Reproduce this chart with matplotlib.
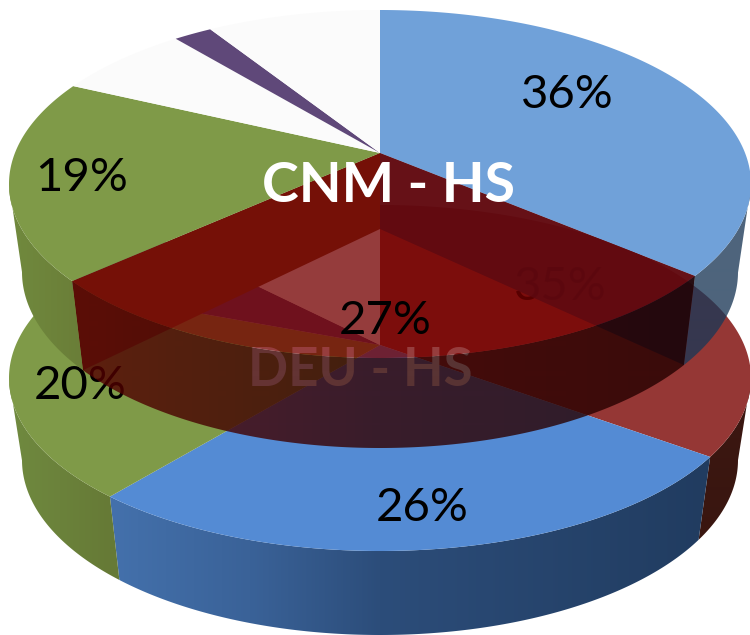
import numpy as np
import matplotlib
matplotlib.use("Agg")
import matplotlib.pyplot as plt
from matplotlib.patches import Polygon

plt.rcParams['font.family'] = ['Lato', 'DejaVu Sans']

# shares in percent, clockwise from 12 o'clock
top_names = ['blue', 'red', 'green', 'white', 'purple', 'white']
top_values = [36.2, 27.1, 18.7, 7, 2, 9]
bottom_names = ['red', 'blue', 'green', 'purple', 'white']
bottom_values = [35, 26, 20, 7, 12]

top_labels = ['36%', '27%', '19%']
bottom_labels = ['35%', '26%', '20%']

top_cols = {'blue': '#70a1d9', 'red': (117/255, 0, 0, 0.76), 'green': '#7f9a48',
            'white': '#fbfbfb', 'purple': '#5f4879'}
bottom_cols = {'red': '#953735', 'blue': '#548bd4', 'green': '#7f9a48',
               'white': '#fbfbfb', 'purple': '#5f4879'}

CX = 380
RX = 371
RX_LOW = 358
SKEW = -0.18      # perspective shift of the pie centre


def rim(frac, cy, rx, ry):
    # fraction round the pie -> pixel on the ellipse, with perspective
    th = 2*np.pi*np.asarray(frac, dtype=float)
    y = -np.cos(th)
    x = np.sin(th)
    yy = (y + SKEW)/(1 + SKEW*y)
    xx = x*np.sqrt(1 - SKEW**2)/(1 + SKEW*y)
    return np.column_stack([CX + rx*xx, cy + ry*yy])


def slice_edges(values):
    c = np.cumsum([0] + list(values))/100.0
    return list(zip(c[:-1], c[1:]))


def face(ax, f0, f1, cy, ry, apex_y, col, z):
    arc = rim(np.linspace(f0, f1, 200), cy, RX, ry)
    pts = np.vstack([[CX, apex_y], arc])
    ax.add_patch(Polygon(pts, closed=True, fc=col, ec='none', zorder=z))


def front_part(f0, f1):
    # keep only the part of the rim that faces the viewer
    f = np.linspace(f0, f1, 400)
    th = 2*np.pi*f
    return f[-np.cos(th) + SKEW >= 0]


def wall(ax, f, cy, ry, cy2, ry2, xs, cols, alpha, z):
    # gradient in x, clipped to the band between the two rims
    if len(f) < 2:
        return
    up = rim(f, cy, RX, ry)
    low = rim(f, cy2, RX_LOW, ry2)
    poly = Polygon(np.vstack([up, low[::-1]]), closed=True, fc='none', ec='none',
                   transform=ax.transData)
    ax.add_patch(poly)
    px = np.arange(750)
    img = np.ones((1, 750, 4))
    cols = np.array(cols)/255.0
    for k in range(3):
        img[0, :, k] = np.interp(px, xs, cols[:, k])
    img[0, :, 3] = alpha
    im = ax.imshow(img, extent=(0, 750, 635, 0), aspect='auto', zorder=z,
                   interpolation='bilinear')
    im.set_clip_path(poly)


def inner_wall(ax, f, apex_top, apex_low, col, z):
    a = rim([f], 184, RX, 174)[0]
    b = rim([f], 272, RX_LOW, 176)[0]
    ax.add_patch(Polygon([[CX, apex_top], [CX, apex_low], b, a], closed=True,
                         fc=col, ec='none', zorder=z))


fig = plt.figure(figsize=(7.5, 6.35), dpi=100)
ax = fig.add_axes([0, 0, 1, 1])

# ---- lower pie
B_CY, B_RY, B_APEX = 378, 173, 345
BL_CY, BL_RY = 460, 175
for name, (f0, f1) in zip(bottom_names, slice_edges(bottom_values)):
    if name == 'blue':
        wall(ax, front_part(f0, f1), B_CY, B_RY, BL_CY, BL_RY,
             [110, 250, 380, 705], [(68, 113, 172), (58, 98, 152), (44, 77, 122), (33, 60, 96)], 1, 1)
    elif name == 'green':
        wall(ax, front_part(f0, f1), B_CY, B_RY, BL_CY, BL_RY,
             [10, 110], [(112, 138, 64), (102, 122, 54)], 1, 1)
    elif name == 'red':
        wall(ax, front_part(f0, f1), B_CY, B_RY, BL_CY, BL_RY,
             [700, 750], [(58, 22, 16), (58, 22, 16)], 1, 1)
    face(ax, f0, f1, B_CY, B_RY, B_APEX, bottom_cols[name], 2)

ax.text(560, 287, bottom_labels[0], fontsize=34, color='black', ha='center', va='center', zorder=3)
ax.text(422, 508, bottom_labels[1], fontsize=34, color='black', ha='center', va='center', zorder=3)
ax.text(80, 386, bottom_labels[2], fontsize=34, color='black', ha='center', va='center', zorder=3)
ax.text(360, 371, 'DEU - HS', fontsize=38, fontweight='bold', color='white', ha='center', va='center', zorder=3)

# ---- upper pie
T_CY, T_RY, T_APEX = 184, 174, 153
TL_CY, TL_RY = 272, 176
TL_APEX = 229
edges = slice_edges(top_values)

inner_wall(ax, edges[1][0], T_APEX, TL_APEX, (20/255, 40/255, 70/255, 0.85), 4)
inner_wall(ax, edges[1][1], T_APEX, TL_APEX, (117/255, 67/255, 33/255, 1), 4)

for name, (f0, f1) in zip(top_names, edges):
    if name == 'blue':
        wall(ax, front_part(f0, f1), T_CY, T_RY, TL_CY, TL_RY,
             [600, 750], [(27, 56, 87), (27, 56, 87)], 0.78, 5)
    elif name == 'green':
        wall(ax, front_part(f0, f1), T_CY, T_RY, TL_CY, TL_RY,
             [9, 81], [(113, 138, 62), (106, 126, 56)], 1, 5)
    elif name == 'red':
        wall(ax, front_part(f0, f1), T_CY, T_RY, TL_CY, TL_RY,
             [80, 380, 690], [(85, 0, 0), (50, 0, 0), (35, 0, 0)], 0.8, 5)
    face(ax, f0, f1, T_CY, T_RY, T_APEX, top_cols[name], 6)

ax.text(567, 95, top_labels[0], fontsize=34, color='black', ha='center', va='center', zorder=7)
ax.text(385, 321, top_labels[1], fontsize=34, color='black', ha='center', va='center', zorder=7)
ax.text(82, 178, top_labels[2], fontsize=34, color='black', ha='center', va='center', zorder=7)
ax.text(388, 186, 'CNM - HS', fontsize=40, fontweight='bold', color='white', ha='center', va='center', zorder=8)

ax.set_xlim(0, 750)
ax.set_ylim(635, 0)
ax.axis('off')
fig.savefig('out.png', dpi=100)
